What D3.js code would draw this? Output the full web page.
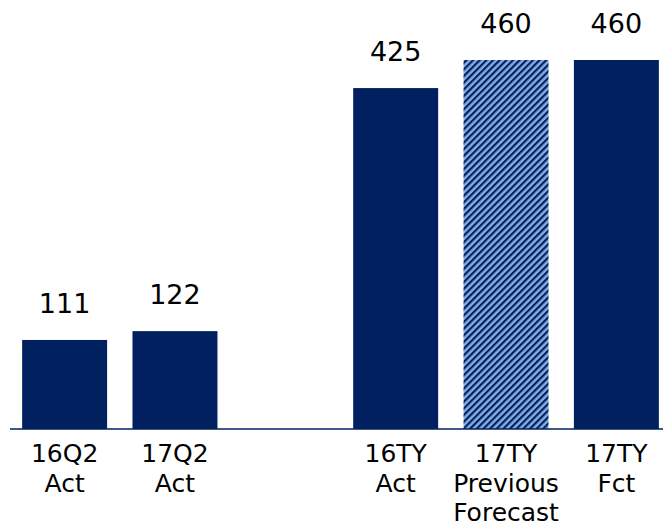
<!DOCTYPE html>
<html>
<head>
<meta charset="utf-8">
<script src="https://cdn.jsdelivr.net/npm/d3@7"></script>
<style>
  body { margin: 0; background: #fff; }
  text { font-family: "DejaVu Sans", Verdana, sans-serif; fill: #000; }
</style>
</head>
<body>
<div id="chart"></div>
<script>
// chart data
var categories = ["16Q2 Act", "17Q2 Act", "", "16TY Act", "17TY Previous Forecast", "17TY Fct"];
var values = [111, 122, null, 425, 460, 460];
var hatchedCategory = "17TY Previous Forecast";

var width = 663, height = 527;
var navy = "#002060";

var svg = d3.select("#chart")
    .append("svg")
    .attr("width", width)
    .attr("height", height);

// striped pattern for the previous forecast bar
var pattern = svg.append("defs").append("pattern")
    .attr("id", "stripes")
    .attr("patternUnits", "userSpaceOnUse")
    .attr("width", 4.7)
    .attr("height", 4.7)
    .attr("patternTransform", "rotate(45)");
pattern.append("rect")
    .attr("width", 4.7).attr("height", 4.7)
    .attr("fill", "#86ade2");
pattern.append("rect")
    .attr("width", 2.2).attr("height", 4.7)
    .attr("fill", navy);

var baseline = 429;

// scales
var x = d3.scaleBand()
    .domain(categories)
    .range([10, 671])
    .paddingInner(0.23)
    .paddingOuter(0.11);

var y = d3.scaleLinear()
    .domain([0, 460])
    .range([baseline, 60]);

var data = categories.map(function(c, i) {
    return { cat: c, value: values[i] };
}).filter(function(d) { return d.value != null; });

// bars
svg.selectAll("rect.bar")
    .data(data)
    .enter()
    .append("rect")
    .attr("class", "bar")
    .attr("x", function(d) { return x(d.cat); })
    .attr("width", x.bandwidth())
    .attr("y", function(d) { return y(d.value); })
    .attr("height", function(d) { return baseline - y(d.value); })
    .attr("fill", function(d) {
        return d.cat === hatchedCategory ? "url(#stripes)" : navy;
    });

// value labels
svg.selectAll("text.label")
    .data(data)
    .enter()
    .append("text")
    .attr("class", "label")
    .attr("x", function(d) { return x(d.cat) + x.bandwidth() / 2; })
    .attr("y", function(d) { return y(d.value) - 27; })
    .attr("text-anchor", "middle")
    .attr("font-size", "27px")
    .text(function(d) { return d.value; });

// x axis
var xAxis = d3.axisBottom(x).tickSize(0).tickFormat("");
var axisG = svg.append("g")
    .attr("transform", "translate(0," + baseline + ")")
    .call(xAxis);
axisG.select(".domain")
    .attr("stroke", navy)
    .attr("stroke-width", 1.5)
    .attr("d", "M10,0H" + width);

// multi-line category labels
axisG.selectAll(".tick").each(function(c) {
    if (!c) return;
    var t = d3.select(this).append("text")
        .attr("text-anchor", "middle")
        .attr("font-size", "25px")
        .attr("fill", "#000");
    c.split(" ").forEach(function(word, i) {
        t.append("tspan")
            .attr("x", 0)
            .attr("y", 33 + i * 29.5)
            .text(word);
    });
});
</script>
</body>
</html>
